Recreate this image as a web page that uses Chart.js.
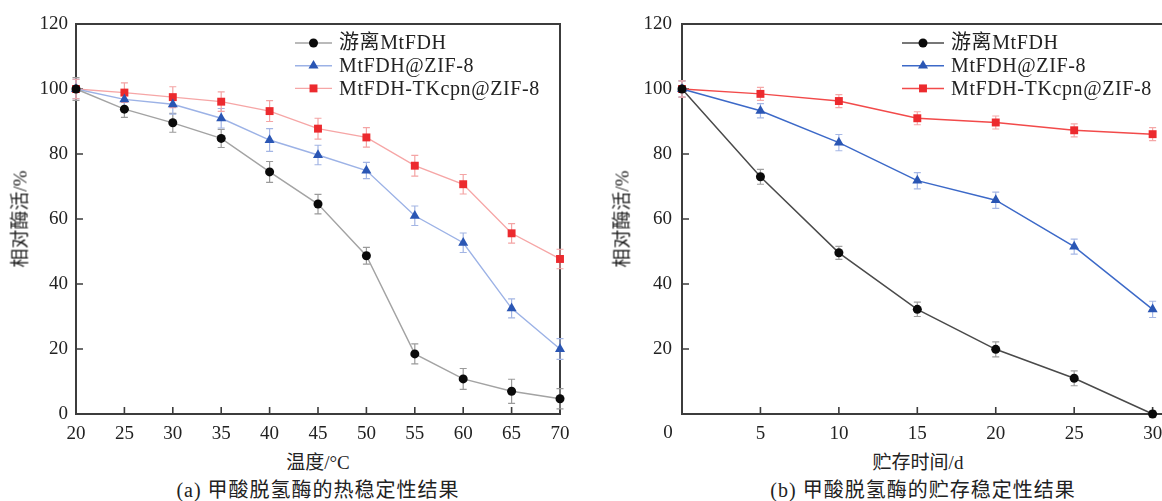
<!DOCTYPE html>
<html><head><meta charset="utf-8">
<script src="https://cdn.jsdelivr.net/npm/chart.js@4.4.1/dist/chart.umd.min.js"></script>
<style>
html,body{margin:0;padding:0;background:#fff;overflow:hidden;width:1162px;height:501px;}
#wrap{position:relative;width:1162px;height:501px;overflow:hidden;}
canvas{position:absolute;top:0;}
.txt{position:absolute;font-family:'Liberation Serif','Noto Sans CJK SC',serif;color:#222;white-space:nowrap;transform:translate(-50%,-50%);font-size:19px;line-height:1;}
.cap{font-size:20px;letter-spacing:1px;}
.rot{transform:translate(-50%,-50%) rotate(-90deg);}
</style></head>
<body>
<div id="wrap">
<canvas id="c1" width="580" height="445" style="left:0;width:580px;height:445px"></canvas>
<canvas id="c2" width="624" height="445" style="left:580px;width:624px;height:445px"></canvas>
<div class="txt rot" style="left:20px;top:219px">相对酶活/%</div>
<div class="txt rot" style="left:622px;top:219px">相对酶活/%</div>
<div class="txt" style="left:318px;top:462px">温度/°C</div>
<div class="txt" style="left:918px;top:462px">贮存时间/d</div>
<div class="txt cap" style="left:318px;top:490px">(a) 甲酸脱氢酶的热稳定性结果</div>
<div class="txt cap" style="left:923px;top:490px">(b) 甲酸脱氢酶的贮存稳定性结果</div>
</div>
<script>
// ---- data ----
const seriesNames = ['游离MtFDH', 'MtFDH@ZIF-8', 'MtFDH-TKcpn@ZIF-8'];
const yTicks = [0, 20, 40, 60, 80, 100, 120];

const tempX = [20, 25, 30, 35, 40, 45, 50, 55, 60, 65, 70];
const tempFree = [100, 93.8, 89.6, 84.8, 74.5, 64.6, 48.7, 18.5, 10.8, 7.0, 4.7];
const tempFreeErr = [3.5, 2.5, 2.9, 2.8, 3.2, 3.0, 2.6, 3.1, 3.2, 3.7, 3.1];
const tempZif = [100, 96.8, 95.3, 91.0, 84.3, 79.7, 74.9, 61.0, 52.7, 32.5, 20.0];
const tempZifErr = [3.0, 2.5, 3.0, 3.0, 3.5, 3.0, 2.5, 3.0, 3.0, 2.9, 3.2];
const tempTk = [100, 98.9, 97.5, 96.1, 93.2, 87.8, 85.1, 76.4, 70.7, 55.6, 47.7];
const tempTkErr = [3.0, 3.0, 3.2, 3.0, 3.2, 3.2, 3.0, 3.2, 3.0, 3.0, 3.0];

const dayX = [0, 5, 10, 15, 20, 25, 30];
const dayFree = [100, 73.0, 49.6, 32.2, 19.9, 11.0, 0];
const dayFreeErr = [2.5, 2.3, 2.0, 2.2, 2.3, 2.3, 1.0];
const dayZif = [100, 93.3, 83.5, 71.8, 65.8, 51.5, 32.2];
const dayZifErr = [2.5, 2.2, 2.5, 2.5, 2.5, 2.3, 2.5];
const dayTk = [100, 98.5, 96.3, 91.0, 89.7, 87.3, 86.1];
const dayTkErr = [2.5, 2.0, 2.0, 2.0, 2.0, 2.0, 2.0];

// ---- styles ----
const FONT = "'Liberation Serif','Noto Sans CJK SC',serif";
const markerColors = ['#0a0a0a', '#2a56b4', '#ec2a2e'];
const pointStyles = ['circle', 'triangle', 'rect'];
const pointRadii = [4.5, 5.8, 5.6];

function pts(xs, ys){ return xs.map((x,i)=>({x:x, y:ys[i]})); }

function drawMarker(ctx, style, x, y, r, color){
  ctx.save(); ctx.fillStyle = color; ctx.beginPath();
  if(style==='circle'){ ctx.arc(x,y,r,0,Math.PI*2); }
  else if(style==='triangle'){
    let a=0; ctx.moveTo(x+Math.sin(a)*r, y-Math.cos(a)*r);
    a+=2*Math.PI/3; ctx.lineTo(x+Math.sin(a)*r, y-Math.cos(a)*r);
    a+=2*Math.PI/3; ctx.lineTo(x+Math.sin(a)*r, y-Math.cos(a)*r);
    ctx.closePath();
  } else { const s=Math.SQRT1_2*r; ctx.rect(x-s,y-s,2*s,2*s); }
  ctx.fill(); ctx.restore();
}

function makeDeco(cfg){
  return {
    id:'deco',
    beforeDatasetsDraw(chart){
      const ctx=chart.ctx, a=chart.chartArea, xs=chart.scales.x, ys=chart.scales.y;
      ctx.save();
      ctx.strokeStyle='#3c3c3c'; ctx.lineWidth=2;
      ctx.beginPath();
      ctx.moveTo(a.left,a.top); ctx.lineTo(a.right,a.top); ctx.lineTo(a.right,a.bottom);
      ctx.lineTo(a.left,a.bottom); ctx.closePath(); ctx.stroke();
      ctx.lineWidth=1.6; ctx.beginPath();
      xs.ticks.forEach(t=>{ const p=xs.getPixelForValue(t.value);
        if(p>a.left+2 && p<a.right-2){ ctx.moveTo(p,a.bottom); ctx.lineTo(p,a.bottom-7);} });
      ys.ticks.forEach(t=>{ const p=ys.getPixelForValue(t.value);
        if(p>a.top+2 && p<a.bottom-2){ ctx.moveTo(a.left,p); ctx.lineTo(a.left+7,p);} });
      ctx.stroke();
      if(cfg.originLabel){
        ctx.fillStyle='#222'; ctx.font='19px '+FONT; ctx.textAlign='center'; ctx.textBaseline='top';
        ctx.fillText(cfg.originLabel, xs.getPixelForValue(0)-14, a.bottom+10);
      }
      // error bars
      chart.data.datasets.forEach((ds,i)=>{
        const meta=chart.getDatasetMeta(i);
        ctx.strokeStyle=cfg.errColors[i]; ctx.lineWidth=1.2;
        ctx.beginPath();
        meta.data.forEach((pt,j)=>{
          const v=ds.data[j].y, e=cfg.errs[i][j];
          const y1=ys.getPixelForValue(v+e), y2=ys.getPixelForValue(v-e);
          ctx.moveTo(pt.x,y1); ctx.lineTo(pt.x,y2);
          ctx.moveTo(pt.x-3.5,y1); ctx.lineTo(pt.x+3.5,y1);
          ctx.moveTo(pt.x-3.5,y2); ctx.lineTo(pt.x+3.5,y2);
        });
        ctx.stroke();
      });
      ctx.restore();
    },
    afterDatasetsDraw(chart){
      const ctx=chart.ctx, L=cfg.legend;
      ctx.save();
      chart.data.datasets.forEach((ds,i)=>{
        const y=L.y+i*L.dy;
        ctx.strokeStyle=ds.borderColor; ctx.lineWidth=ds.borderWidth;
        ctx.beginPath(); ctx.moveTo(L.x,y); ctx.lineTo(L.x+L.len,y); ctx.stroke();
        drawMarker(ctx, pointStyles[i], L.x+L.len/2, y, pointRadii[i], markerColors[i]);
        ctx.fillStyle='#222'; ctx.font='20px '+FONT; ctx.textAlign='left'; ctx.textBaseline='middle';
        try{ ctx.letterSpacing='0.6px'; }catch(e){}
        ctx.fillText(ds.label, L.x+L.len+L.gap, y+1);
        try{ ctx.letterSpacing='0px'; }catch(e){}
      });
      ctx.restore();
    }
  };
}

function makeDatasets(xs, series, lineColors, lw){
  return series.map((s,i)=>({
    label: seriesNames[i],
    data: pts(xs, s),
    borderColor: lineColors[i], borderWidth: lw,
    pointStyle: pointStyles[i], pointRadius: pointRadii[i],
    pointBackgroundColor: markerColors[i], pointBorderColor: markerColors[i], pointBorderWidth: 0,
    tension: 0, clip: false, fill: false
  }));
}

function makeOptions(xmin, xmax, xTickVals, yWidth, yPad, hideZero){
  const tickFont = {family: FONT, size: 19};
  return {
    responsive:false, animation:false, devicePixelRatio:1,
    layout:{padding:{top:24, right:20, left:0, bottom:0}},
    plugins:{legend:{display:false}, tooltip:{enabled:false}},
    scales:{
      x:{type:'linear', min:xmin, max:xmax,
        afterBuildTicks:s=>{ s.ticks=xTickVals.map(v=>({value:v})); },
        afterFit:s=>{ s.height=31; },
        grid:{display:false, drawTicks:false}, border:{display:false},
        ticks:{padding:9, font:tickFont, color:'#222', maxRotation:0, autoSkip:false,
          callback:v=> (hideZero && v===0) ? '' : String(v)}},
      y:{type:'linear', min:0, max:120,
        afterBuildTicks:s=>{ s.ticks=yTicks.map(v=>({value:v})); },
        afterFit:s=>{ s.width=yWidth; },
        grid:{display:false, drawTicks:false}, border:{display:false},
        ticks:{padding:yPad, font:tickFont, color:'#222',
          callback:v=> (hideZero && v===0) ? '' : String(v)}}
    }
  };
}

new Chart(document.getElementById('c1'), {
  type:'line',
  data:{datasets: makeDatasets(tempX, [tempFree, tempZif, tempTk], ['#a3a3a3', '#9cb2e6', '#f6a6a6'], 1.4)},
  options: makeOptions(20, 70, tempX, 76, 8, false),
  plugins:[makeDeco({
    errs:[tempFreeErr, tempZifErr, tempTkErr],
    errColors:['#9a9a9a', '#a3b5e4', '#f4a4a4'],
    legend:{x:295, y:43, dy:22.7, len:37, gap:7}
  })]
});

new Chart(document.getElementById('c2'), {
  type:'line',
  data:{datasets: makeDatasets(dayX, [dayFree, dayZif, dayTk], ['#4a4a4a', '#3c69c8', '#f24a4a'], 1.5)},
  options: makeOptions(0, 32, dayX, 102, 10, true),
  plugins:[makeDeco({
    errs:[dayFreeErr, dayZifErr, dayTkErr],
    errColors:['#a0a0a0', '#a6b8e6', '#f5a8a8'],
    legend:{x:322, y:43, dy:22.7, len:42, gap:7},
    originLabel:'0'
  })]
});
</script>
</body></html>
